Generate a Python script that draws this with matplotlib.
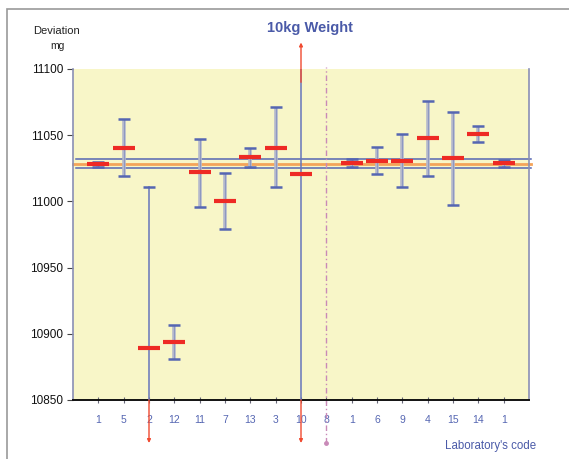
import matplotlib
matplotlib.use("Agg")
import matplotlib.pyplot as plt
from matplotlib.patches import Rectangle

plt.rcParams['font.family'] = ['Liberation Sans', 'DejaVu Sans']

# ---- data ----
lab_codes = ["1", "5", "2", "12", "11", "7", "13", "3", "10", "8", "1", "6", "9", "4", "15", "14", "1"]
values =    [11028.0, 11040.5, 10889.5, 10894.0, 11022.0, 11000.3, 11033.5, 11040.5, 11021.0,
             None, 11029.2, 11030.3, 11030.3, 11048.0, 11032.8, 11051.0, 11029.2]
upper =     [11029.8, 11062.0, 11011.0, 10906.5, 11047.4, 11021.7, 11040.0, 11071.0, 11200.0,
             None, 11031.8, 11041.3, 11051.0, 11076.0, 11067.5, 11057.2, 11031.0]
lower =     [11025.8, 11019.0, 10700.0, 10880.7, 10996.0, 10979.0, 11026.0, 11011.0, 10700.0,
             None, 11026.0, 11020.5, 11011.0, 11019.0, 10997.3, 11044.6, 11026.0]
ref_value = 11028.5
ref_band = [11025.0, 11032.0]
y_ticks = [10850, 10900, 10950, 11000, 11050, 11100]
ylim = (10850, 11100)

BLUE = '#5566b2'
GRAY = '#b4b8cc'
RED = '#ee2a24'
YELLOW = '#f8f6c8'

fig = plt.figure(figsize=(5.69, 4.59), dpi=100)
ax = fig.add_axes([73/569, 1-400/459, (529-73)/569, (400-69)/459])
ax.set_facecolor(YELLOW)

positions = list(range(1, len(lab_codes)+1))
ax.set_xlim(0, len(lab_codes)+1)
ax.set_ylim(*ylim)

xax = ax.get_xaxis_transform()

# reference lines
for yb in ref_band:
    ax.axhline(yb, xmin=0.007, xmax=1.005, color=BLUE, lw=1.1, clip_on=False, zorder=2)
ax.axhline(ref_value, xmin=0.0, xmax=1.005, color='#f4a45a', lw=2.0, clip_on=False, zorder=2)

for x, v, hi, lo in zip(positions, values, upper, lower):
    if v is None:
        # no result: dash-dot line
        ax.plot([x, x], [-0.13, 1.006], transform=xax, color='#c98ab8', lw=1.0,
                ls=(0, (4, 2, 1, 2)), clip_on=False, zorder=2)
        ax.plot([x], [-0.13], transform=xax, marker='o', ms=2.5, color='#c98ab8',
                clip_on=False, zorder=2)
        continue
    off_low = lo < ylim[0]
    off_high = hi > ylim[1]
    lo_c = max(lo, ylim[0])
    hi_c = min(hi, ylim[1])
    if off_low or off_high:
        ax.plot([x, x], [lo_c, hi_c], color='#6676bb', lw=1.1, zorder=3)
    else:
        ax.plot([x, x], [lo_c, hi_c], color=GRAY, lw=2.6, zorder=3, solid_capstyle='butt')
        ax.plot([x, x], [lo_c, hi_c], color='#7080bb', lw=0.4, zorder=3)
    if not off_low:
        ax.plot([x], [lo], marker='_', ms=8, mew=1.8, color=BLUE, zorder=4)
    else:
        ax.annotate('', xy=(x, -0.13), xycoords=xax, xytext=(x, 0.0), textcoords=xax,
                    arrowprops=dict(arrowstyle='-|>', color='#f04a30', lw=1.0,
                                    mutation_scale=5, shrinkA=0, shrinkB=0),
                    annotation_clip=False, zorder=5)
    if not off_high:
        ax.plot([x], [hi], marker='_', ms=8, mew=1.8, color=BLUE, zorder=4)
    else:
        ax.annotate('', xy=(x, 1.08), xycoords=xax, xytext=(x, 0.96), textcoords=xax,
                    arrowprops=dict(arrowstyle='-|>', color='#f04a30', lw=1.0,
                                    mutation_scale=5, shrinkA=0, shrinkB=0),
                    annotation_clip=False, zorder=5)
    ax.plot([x], [v], marker='_', ms=16, mew=3, color=RED, zorder=5)

# axes styling
ax.set_xticks(positions)
ax.set_xticklabels(lab_codes, color=BLUE, fontsize=7.5)
ax.set_yticks(y_ticks)
ax.set_yticklabels([str(t) for t in y_ticks], fontsize=8.5, color='#111111')
ax.tick_params(axis='x', direction='inout', length=5, width=0.8, color='#666677', pad=8)
ax.tick_params(axis='y', direction='out', length=4, width=0.8, color='#444444', pad=3)
ax.spines['top'].set_visible(False)
ax.spines['bottom'].set_color('#111111')
ax.spines['bottom'].set_linewidth(1.4)
ax.spines['left'].set_color('#8a8fb5')
ax.spines['left'].set_linewidth(1.2)
ax.spines['right'].set_color('#8a8fb5')
ax.spines['right'].set_linewidth(1.2)

# texts
fig.text(310/569, 1-28/459, "10kg Weight", ha='center', va='center', fontsize=10.5,
         fontweight='bold', color='#4a5aa8')
fig.text(57/569, 1-31/459, "Deviation", ha='center', va='center', fontsize=8, color='#222222')
fig.text(57/569, 1-46/459, "mg", ha='center', va='center', fontsize=7.5, color='#222222')
fig.text(491/569, 1-446/459, "Laboratory's code", ha='center', va='center', fontsize=8.3,
         color='#4a5aa8')

# outer frame
fig.patches.append(Rectangle((7/569, -0.05), 1.2, 1-9/459+0.05, transform=fig.transFigure,
                             fill=False, edgecolor='#999999', lw=1.2))

fig.savefig("out.png", dpi=100)
